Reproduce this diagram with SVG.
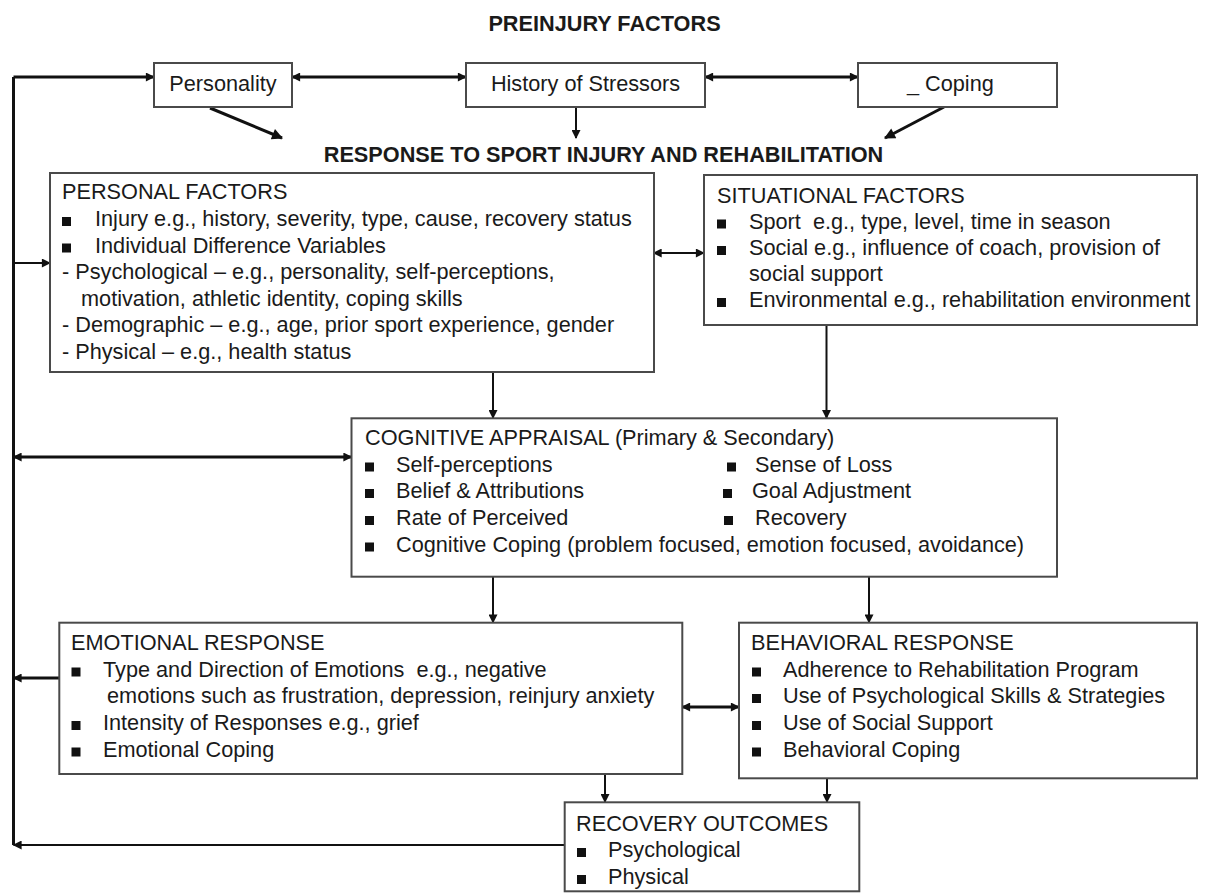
<svg xmlns="http://www.w3.org/2000/svg" width="1208" height="893" viewBox="0 0 1208 893">
<defs>
<style>
.bg{fill:#fff}
.box{fill:#fff;stroke:#4a4a4a;stroke-width:2}
text{font-family:"Liberation Sans",Arial,sans-serif;font-size:21.7px;fill:#1a1a1a}
.h{font-weight:bold;text-anchor:middle}
.c{text-anchor:middle}
.pre{white-space:pre}
.b{fill:#111}
.thick{fill:none;stroke:#111;stroke-width:3}
.thin{fill:none;stroke:#111;stroke-width:2}
</style>
<marker id="ah" viewBox="0 0 10 10" refX="9" refY="5" markerWidth="10" markerHeight="9" markerUnits="userSpaceOnUse" orient="auto-start-reverse">
<path d="M0,0 L10,5 L0,10 Z" fill="#111"/>
</marker>
<marker id="ahL" viewBox="0 0 10 10" refX="9" refY="5" markerWidth="13" markerHeight="11" markerUnits="userSpaceOnUse" orient="auto-start-reverse">
<path d="M0,0 L10,5 L0,10 Z" fill="#111"/>
</marker>
<rect id="sq" width="9" height="9"/>
</defs>
<rect class="bg" x="0" y="0" width="1208" height="893"/>

<text class="h" x="604.5" y="30.7">PREINJURY FACTORS</text>
<text class="h" x="603.5" y="161.7">RESPONSE TO SPORT INJURY AND REHABILITATION</text>

<g id="connectors">
<path class="thick" d="M13.5 77 V845"/>
<path class="thick" d="M13.5 77 H154" marker-end="url(#ah)"/>
<path class="thick" d="M292 77 H466" marker-start="url(#ah)" marker-end="url(#ah)"/>
<path class="thick" d="M705 77 H858" marker-start="url(#ah)" marker-end="url(#ah)"/>
<path class="thick" d="M210 108 L282 138" marker-end="url(#ahL)"/>
<path class="thin" d="M576 107 V138" marker-end="url(#ah)"/>
<path class="thick" d="M944 107 L885 138" marker-end="url(#ahL)"/>
<path class="thin" d="M13.5 263 H50" marker-end="url(#ah)"/>
<path class="thin" d="M653.6 253 H704" marker-start="url(#ah)" marker-end="url(#ah)"/>
<path class="thin" d="M493 372 V418" marker-end="url(#ah)"/>
<path class="thin" d="M826.5 325 V418" marker-end="url(#ah)"/>
<path class="thick" d="M13.5 457 H351.5" marker-start="url(#ah)" marker-end="url(#ah)"/>
<path class="thin" d="M493 577 V622.7" marker-end="url(#ah)"/>
<path class="thin" d="M869 577 V622.7" marker-end="url(#ah)"/>
<path class="thick" d="M59 678 H13.5" marker-end="url(#ah)"/>
<path class="thick" d="M682 707 H739" marker-start="url(#ah)" marker-end="url(#ah)"/>
<path class="thin" d="M605 774 V802" marker-end="url(#ah)"/>
<path class="thin" d="M827 778 V802" marker-end="url(#ah)"/>
<path class="thin" d="M564.7 845 H13.5" marker-end="url(#ah)"/>
</g>

<g id="personality">
<rect class="box" x="154" y="63" width="138" height="44"/>
<text class="c" x="223" y="91">Personality</text>
</g>
<g id="history">
<rect class="box" x="466" y="63" width="239" height="44"/>
<text class="c" x="585.5" y="91">History of Stressors</text>
</g>
<g id="coping">
<rect class="box" x="858" y="63" width="199" height="44"/>
<text x="907" y="91">_ Coping</text>
</g>

<g id="personal">
<rect class="box" x="50" y="173" width="604" height="199"/>
<text x="62" y="199.3">PERSONAL FACTORS</text>
<use href="#sq" class="b" x="62" y="217"/>
<text x="95" y="226">Injury e.g., history, severity, type, cause, recovery status</text>
<use href="#sq" class="b" x="62" y="243.5"/>
<text x="95" y="252.5">Individual Difference Variables</text>
<text x="62" y="279.2">- Psychological – e.g., personality, self-perceptions,</text>
<text x="81" y="305.8">motivation, athletic identity, coping skills</text>
<text x="62" y="332.4">- Demographic – e.g., age, prior sport experience, gender</text>
<text x="62" y="359">- Physical – e.g., health status</text>
</g>

<g id="situational">
<rect class="box" x="704" y="175" width="493" height="150"/>
<text x="717" y="202.7">SITUATIONAL FACTORS</text>
<use href="#sq" class="b" x="717" y="219.5"/>
<text class="pre" x="749" y="228.5">Sport  e.g., type, level, time in season</text>
<use href="#sq" class="b" x="717" y="246"/>
<text x="749" y="255">Social e.g., influence of coach, provision of</text>
<text x="749" y="281">social support</text>
<use href="#sq" class="b" x="717" y="298"/>
<text x="749" y="307">Environmental e.g., rehabilitation environment</text>
</g>

<g id="cognitive">
<rect class="box" x="351.5" y="418.3" width="705.5" height="158.4"/>
<text x="365" y="445">COGNITIVE APPRAISAL (Primary &amp; Secondary)</text>
<use href="#sq" class="b" x="365" y="462.5"/>
<text x="396" y="471.7">Self-perceptions</text>
<use href="#sq" class="b" x="365" y="489"/>
<text x="396" y="498.3">Belief &amp; Attributions</text>
<use href="#sq" class="b" x="365" y="516"/>
<text x="396" y="525">Rate of Perceived</text>
<use href="#sq" class="b" x="365" y="542.5"/>
<text x="396" y="551.7">Cognitive Coping (problem focused, emotion focused, avoidance)</text>
<use href="#sq" class="b" x="727" y="462.5"/>
<text x="755" y="471.7">Sense of Loss</text>
<use href="#sq" class="b" x="723" y="489"/>
<text x="752" y="498.3">Goal Adjustment</text>
<use href="#sq" class="b" x="724" y="516"/>
<text x="755" y="525">Recovery</text>
</g>

<g id="emotional">
<rect class="box" x="59.3" y="622.7" width="623" height="151.3"/>
<text x="71" y="650">EMOTIONAL RESPONSE</text>
<use href="#sq" class="b" x="71.5" y="667.5"/>
<text class="pre" x="103" y="676.7">Type and Direction of Emotions  e.g., negative</text>
<text x="107" y="703.3">emotions such as frustration, depression, reinjury anxiety</text>
<use href="#sq" class="b" x="71.5" y="721"/>
<text x="103" y="730">Intensity of Responses e.g., grief</text>
<use href="#sq" class="b" x="71.5" y="747.5"/>
<text x="103" y="756.7">Emotional Coping</text>
</g>

<g id="behavioral">
<rect class="box" x="739" y="622.7" width="458" height="155.6"/>
<text x="751" y="650">BEHAVIORAL RESPONSE</text>
<use href="#sq" class="b" x="752" y="667.5"/>
<text x="783" y="676.7">Adherence to Rehabilitation Program</text>
<use href="#sq" class="b" x="752" y="694"/>
<text x="783" y="703.3">Use of Psychological Skills &amp; Strategies</text>
<use href="#sq" class="b" x="752" y="721"/>
<text x="783" y="730">Use of Social Support</text>
<use href="#sq" class="b" x="752" y="747.5"/>
<text x="783" y="756.7">Behavioral Coping</text>
</g>

<g id="recovery">
<rect class="box" x="564.7" y="802.3" width="294.6" height="89"/>
<text x="576" y="830.7">RECOVERY OUTCOMES</text>
<use href="#sq" class="b" x="577" y="848"/>
<text x="608" y="857.3">Psychological</text>
<use href="#sq" class="b" x="577" y="875"/>
<text x="608" y="884">Physical</text>
</g>
</svg>
